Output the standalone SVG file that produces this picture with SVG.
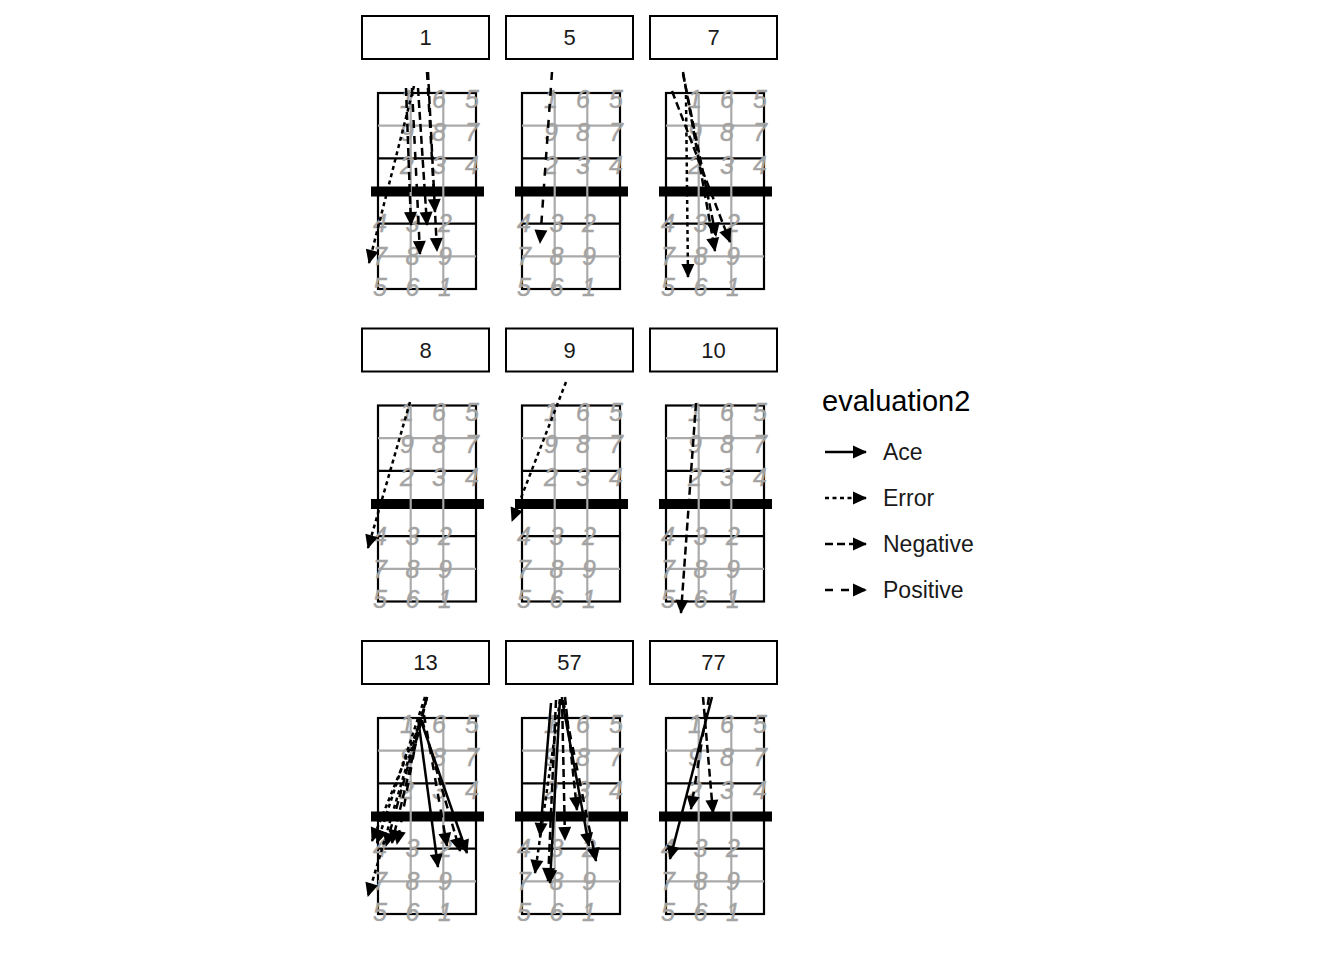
<svg xmlns="http://www.w3.org/2000/svg" xmlns:xlink="http://www.w3.org/1999/xlink" width="1344" height="960" viewBox="0 0 1344 960">
<style>
.strip{fill:#fff;stroke:#000;stroke-width:2}
.stxt{font-family:"Liberation Sans",Arial,sans-serif;font-size:22px;fill:#1a1a1a;text-anchor:middle}
.cb{fill:none;stroke:#000;stroke-width:2.2}
.cg{fill:none;stroke:#aaaaaa;stroke-width:2.2}
.net{fill:#000}
.dig{font-family:"Liberation Sans",Arial,sans-serif;font-style:italic;font-size:25px;fill:#a3a3a3;stroke:#a3a3a3;stroke-width:0.4;text-anchor:middle}
.ar{fill:none;stroke:#000;stroke-width:2.5;marker-end:url(#ah)}
.ace{}
.err{stroke-dasharray:4 3.5}
.neg{stroke-dasharray:8 4}
.pos{stroke-dasharray:8 8}
.lt{font-family:"Liberation Sans",Arial,sans-serif;font-size:29px;fill:#000}
.ll{font-family:"Liberation Sans",Arial,sans-serif;font-size:23px;fill:#1a1a1a}
</style>
<defs>
<marker id="ah" markerUnits="userSpaceOnUse" viewBox="0 0 14 13" refX="13" refY="6.5" markerWidth="14" markerHeight="13" orient="auto" overflow="visible">
<path d="M0,0 L14,6.5 L0,13 Z" fill="#000"/>
</marker>
<g id="court">
<rect class="cb" x="378" y="93" width="98" height="196"/>
<line class="cb" x1="378" y1="158.3" x2="476" y2="158.3"/>
<line class="cb" x1="378" y1="223.7" x2="476" y2="223.7"/>
<rect class="net" x="371" y="186.5" width="113" height="10"/>
<line class="cg" x1="378" y1="125.7" x2="476" y2="125.7"/>
<line class="cg" x1="378" y1="256.3" x2="476" y2="256.3"/>
<line class="cg" x1="410.7" y1="93" x2="410.7" y2="289"/>
<line class="cg" x1="443.3" y1="93" x2="443.3" y2="289"/>
<text class="dig" x="407" y="108">1</text><text class="dig" x="439" y="108">6</text><text class="dig" x="472" y="108">5</text>
<text class="dig" x="407" y="140.5">9</text><text class="dig" x="439" y="140.5">8</text><text class="dig" x="472" y="140.5">7</text>
<text class="dig" x="407" y="173.5">2</text><text class="dig" x="439" y="173.5">3</text><text class="dig" x="472" y="173.5">4</text>
<text class="dig" x="380" y="232">4</text><text class="dig" x="412.5" y="232">3</text><text class="dig" x="445" y="232">2</text>
<text class="dig" x="380" y="265">7</text><text class="dig" x="412.5" y="265">8</text><text class="dig" x="445" y="265">9</text>
<text class="dig" x="380" y="295.5">5</text><text class="dig" x="412.5" y="295.5">6</text><text class="dig" x="445" y="295.5">1</text>
</g>
</defs>
<rect x="0" y="0" width="1344" height="960" fill="#fff"/>

<g id="panel-1"><rect class="strip" x="362" y="16" width="127" height="43"/><text class="stxt" x="425.5" y="45">1</text><use xlink:href="#court"/></g>
<g id="panel-5" transform="translate(144,0)"><rect class="strip" x="362" y="16" width="127" height="43"/><text class="stxt" x="425.5" y="45">5</text><use xlink:href="#court"/></g>
<g id="panel-7" transform="translate(288,0)"><rect class="strip" x="362" y="16" width="127" height="43"/><text class="stxt" x="425.5" y="45">7</text><use xlink:href="#court"/></g>
<g id="panel-8" transform="translate(0,312.5)"><rect class="strip" x="362" y="16" width="127" height="43"/><text class="stxt" x="425.5" y="45">8</text><use xlink:href="#court"/></g>
<g id="panel-9" transform="translate(144,312.5)"><rect class="strip" x="362" y="16" width="127" height="43"/><text class="stxt" x="425.5" y="45">9</text><use xlink:href="#court"/></g>
<g id="panel-10" transform="translate(288,312.5)"><rect class="strip" x="362" y="16" width="127" height="43"/><text class="stxt" x="425.5" y="45">10</text><use xlink:href="#court"/></g>
<g id="panel-13" transform="translate(0,625)"><rect class="strip" x="362" y="16" width="127" height="43"/><text class="stxt" x="425.5" y="45">13</text><use xlink:href="#court"/></g>
<g id="panel-57" transform="translate(144,625)"><rect class="strip" x="362" y="16" width="127" height="43"/><text class="stxt" x="425.5" y="45">57</text><use xlink:href="#court"/></g>
<g id="panel-77" transform="translate(288,625)"><rect class="strip" x="362" y="16" width="127" height="43"/><text class="stxt" x="425.5" y="45">77</text><use xlink:href="#court"/></g>

<g id="connectors">
<!-- panel 1 -->
<line class="ar err" x1="414" y1="86" x2="369" y2="263"/>
<line class="ar neg" x1="406" y1="88" x2="411" y2="225"/>
<line class="ar pos" x1="412" y1="88" x2="420" y2="254"/>
<line class="ar neg" x1="418" y1="88" x2="427" y2="225"/>
<line class="ar pos" x1="427" y1="72" x2="435" y2="212"/>
<line class="ar neg" x1="428" y1="72" x2="437" y2="251"/>
<!-- panel 5 -->
<line class="ar pos" x1="552" y1="72" x2="540" y2="243"/>
<!-- panel 7 -->
<line class="ar neg" x1="683" y1="72" x2="715" y2="251"/>
<line class="ar neg" x1="683" y1="74" x2="716" y2="236"/>
<line class="ar neg" x1="672" y1="91" x2="730" y2="242"/>
<line class="ar err" x1="686" y1="95" x2="688" y2="277"/>
<!-- panel 8 -->
<line class="ar err" x1="410" y1="402" x2="368" y2="548"/>
<!-- panel 9 -->
<line class="ar err" x1="566" y1="382" x2="512" y2="521"/>
<!-- panel 10 -->
<line class="ar neg" x1="696" y1="403" x2="681" y2="613"/>
<!-- panel 13 -->
<line class="ar err" x1="427" y1="697" x2="368" y2="896"/>
<line class="ar err" x1="425" y1="697" x2="377" y2="843"/>
<line class="ar neg" x1="427" y1="697" x2="386" y2="846"/>
<line class="ar neg" x1="427" y1="697" x2="392" y2="843"/>
<line class="ar pos" x1="420" y1="720" x2="397" y2="844"/>
<line class="ar err" x1="418" y1="728" x2="372" y2="841"/>
<line class="ar ace" x1="418" y1="718" x2="438" y2="867"/>
<line class="ar ace" x1="420" y1="718" x2="467" y2="853"/>
<line class="ar neg" x1="422" y1="720" x2="460" y2="851"/>
<line class="ar pos" x1="424" y1="715" x2="447" y2="846"/>
<!-- panel 57 -->
<line class="ar ace" x1="551" y1="703" x2="540" y2="836"/>
<line class="ar ace" x1="560" y1="699" x2="550" y2="883"/>
<line class="ar ace" x1="563" y1="705" x2="589" y2="846"/>
<line class="ar neg" x1="562" y1="697" x2="565" y2="840"/>
<line class="ar neg" x1="565" y1="697" x2="577" y2="810"/>
<line class="ar pos" x1="563" y1="700" x2="596" y2="861"/>
<line class="ar err" x1="560" y1="700" x2="535" y2="873"/>
<line class="ar neg" x1="556" y1="700" x2="548" y2="881"/>
<!-- panel 77 -->
<line class="ar ace" x1="712" y1="697" x2="670" y2="859"/>
<line class="ar neg" x1="703" y1="697" x2="713" y2="813"/>
<line class="ar pos" x1="709" y1="697" x2="691" y2="809"/>
</g>

<g id="legend">
<text class="lt" x="822" y="411">evaluation2</text>
<line class="ar ace" x1="825" y1="452" x2="866" y2="452"/>
<text class="ll" x="883" y="460">Ace</text>
<line class="ar err" x1="825" y1="498" x2="866" y2="498"/>
<text class="ll" x="883" y="506">Error</text>
<line class="ar neg" x1="825" y1="544" x2="866" y2="544"/>
<text class="ll" x="883" y="552">Negative</text>
<line class="ar pos" x1="825" y1="590" x2="866" y2="590"/>
<text class="ll" x="883" y="598">Positive</text>
</g>
</svg>
